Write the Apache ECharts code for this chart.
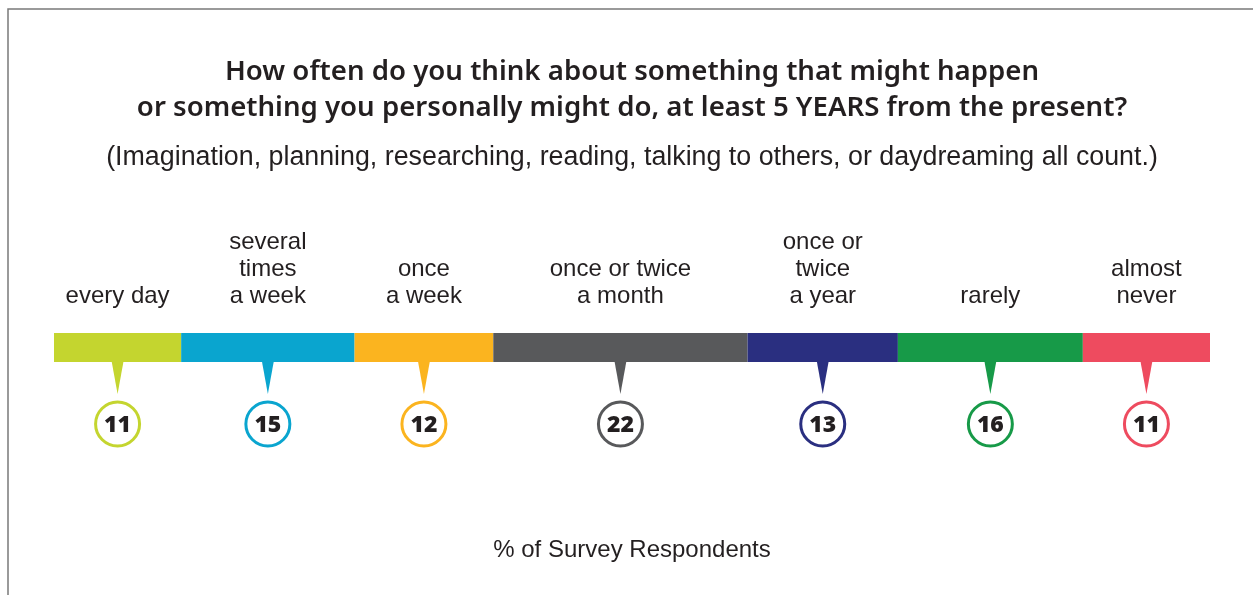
<!DOCTYPE html>
<html>
<head>
<meta charset="utf-8">
<script src="https://cdn.jsdelivr.net/npm/echarts@6/dist/echarts.min.js"></script>
<style>
html,body{margin:0;padding:0;background:#fff;}
#c{width:1253px;height:595px;}
</style>
</head>
<body>
<div id="c"></div>
<script>
var categories = ['every day', 'several\ntimes\na week', 'once\na week', 'once or twice\na month', 'once or\ntwice\na year', 'rarely', 'almost\nnever'];
var values = [11, 15, 12, 22, 13, 16, 11];
var colors = ['#c4d52f', '#0aa5cf', '#fbb41f', '#58595b', '#2a2f80', '#179a48', '#ee4b5f'];
var titleLines = ['How often do you think about something that might happen', 'or something you personally might do, at least 5 YEARS from the present?'];
var subtitleText = '(Imagination, planning, researching, reading, talking to others, or daydreaming all count.)';
var axisNameText = '% of Survey Respondents';

var chart = echarts.init(document.getElementById('c'));
var TXT = '#231f20';
var BAR_H = 29;
var CX = 632;

var series = categories.map(function (c, i) {
  return {
    type: 'bar',
    name: c,
    stack: 'total',
    barWidth: BAR_H,
    data: [values[i]],
    itemStyle: { color: colors[i] },
    silent: true,
    label: {
      show: true,
      position: 'top',
      distance: 23,
      formatter: c,
      fontFamily: 'Liberation Sans, Arial, sans-serif',
      fontSize: 24,
      lineHeight: 27,
      color: TXT
    }
  };
});

var pointerData = [];
var acc = 0;
for (var i = 0; i < values.length; i++) {
  pointerData.push([acc, values[i], i]);
  acc += values[i];
}

series.push({
  type: 'custom',
  silent: true,
  z: 5,
  data: pointerData,
  renderItem: function (params, api) {
    var start = api.value(0), v = api.value(1), idx = api.value(2);
    var p = api.coord([start + v / 2, 0]);
    var cx = p[0];
    var barBottom = p[1] + BAR_H / 2;
    var col = colors[idx];
    return {
      type: 'group',
      children: [
        {
          type: 'polygon',
          shape: { points: [[cx - 6, barBottom - 1], [cx + 6, barBottom - 1], [cx, barBottom + 32]] },
          style: { fill: col }
        },
        {
          type: 'circle',
          shape: { cx: cx, cy: barBottom + 62, r: 22 },
          style: { fill: '#fff', stroke: col, lineWidth: 3 }
        },
        {
          type: 'text',
          style: {
            text: String(v),
            x: cx, y: barBottom + 63,
            align: 'center', verticalAlign: 'middle',
            fontFamily: 'Noto Sans, sans-serif',
            fontWeight: 900,
            fontSize: 23,
            fill: TXT
          }
        }
      ]
    };
  }
});

function txt(t, y, size, weight) {
  return {
    type: 'text', silent: true,
    style: {
      text: t, x: CX, y: y, align: 'center', verticalAlign: 'middle',
      fontFamily: weight === 'normal' ? 'Liberation Sans, Arial, sans-serif' : 'Noto Sans, sans-serif',
      fontWeight: weight, fontSize: size, fill: TXT
    }
  };
}

chart.setOption({
  animation: false,
  backgroundColor: '#fff',
  grid: { left: 54, right: 43, top: 333, height: BAR_H },
  xAxis: { type: 'value', min: 0, max: 100, show: false },
  yAxis: { type: 'category', data: [''], show: false },
  graphic: [
    {
      type: 'polyline', silent: true,
      shape: { points: [[8, 595], [8, 9], [1253, 9]] },
      style: { stroke: '#7a7a7a', lineWidth: 1.5, fill: null }
    },
    txt(titleLines[0], 72, 27.6, 600),
    txt(titleLines[1], 108, 27.6, 600),
    txt(subtitleText, 158, 26.8, 'normal'),
    txt(axisNameText, 550, 24, 'normal')
  ],
  series: series
});
</script>
</body>
</html>
